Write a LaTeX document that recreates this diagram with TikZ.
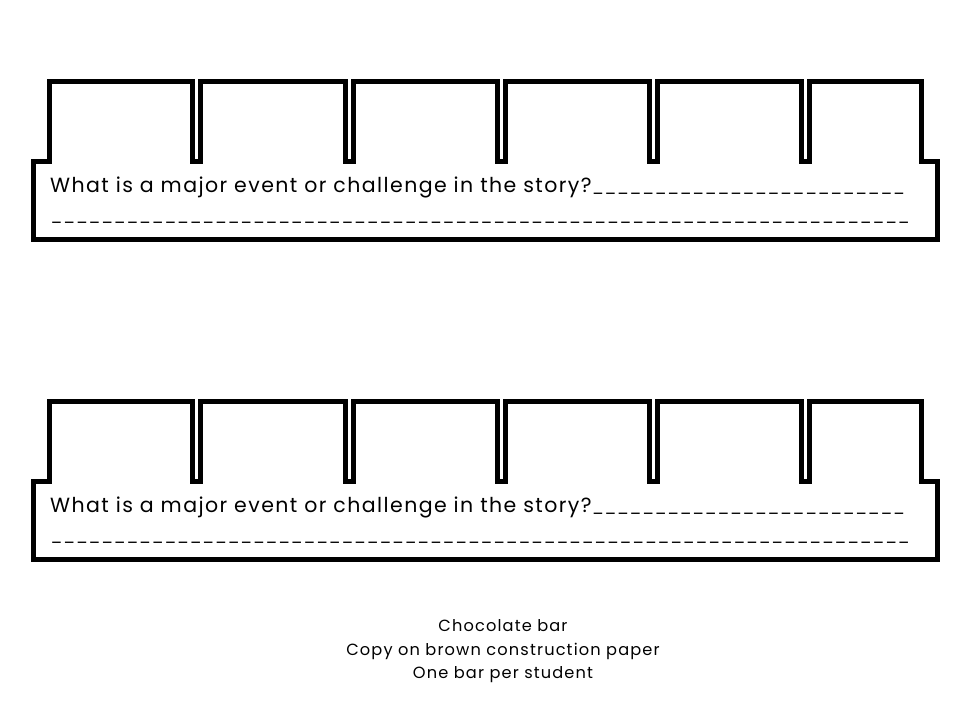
\documentclass[tikz,border=0pt]{standalone}
\usepackage{fontspec}
\setmainfont{Poppins}[LetterSpace=7]

\tikzset{
  barline/.style={line width=5pt, miter limit=10},
  question/.style={anchor=base west, inner sep=0pt, font=\fontsize{20.5}{24}\selectfont},
  footline/.style={anchor=base, inner sep=0pt, font=\fontsize{16.2}{18}\selectfont}
}
\newcommand{\blankfill}{\xleaders\hbox to 12.5pt{\hss\fontsize{16}{16}\selectfont\_\hss}\hfill}

\begin{document}
\begin{tikzpicture}[x=1pt,y=-1pt]
\useasboundingbox (0,0) rectangle (960,720);

\foreach \b in {0,320} {
  \begin{scope}[shift={(0,\b)}]
  \draw[barline] (33,161) -- (49.5,161) -- (49.5,81)
    \foreach \c in {196,349,501,653,805} {
      -- (\c-4,81) -- (\c-4,161) -- (\c+4,161) -- (\c+4,81)
    }
    -- (921,81) -- (921,161) -- (937,161) -- (937,239.5) -- (33,239.5) -- cycle;
  \node[question] (ask\b) at (50,192) {\hbox to 855pt{What is a major event or challenge in the story?\blankfill}};
  \node[question] (blank\b) at (50,221) {\hbox to 860pt{\blankfill}};
  \end{scope}
}

\node[footline] (title) at (503,631) {Chocolate bar};
\node[footline] (copy) at (503,655) {Copy on brown construction paper};
\node[footline] (each) at (503,678) {One bar per student};
\end{tikzpicture}
\end{document}
